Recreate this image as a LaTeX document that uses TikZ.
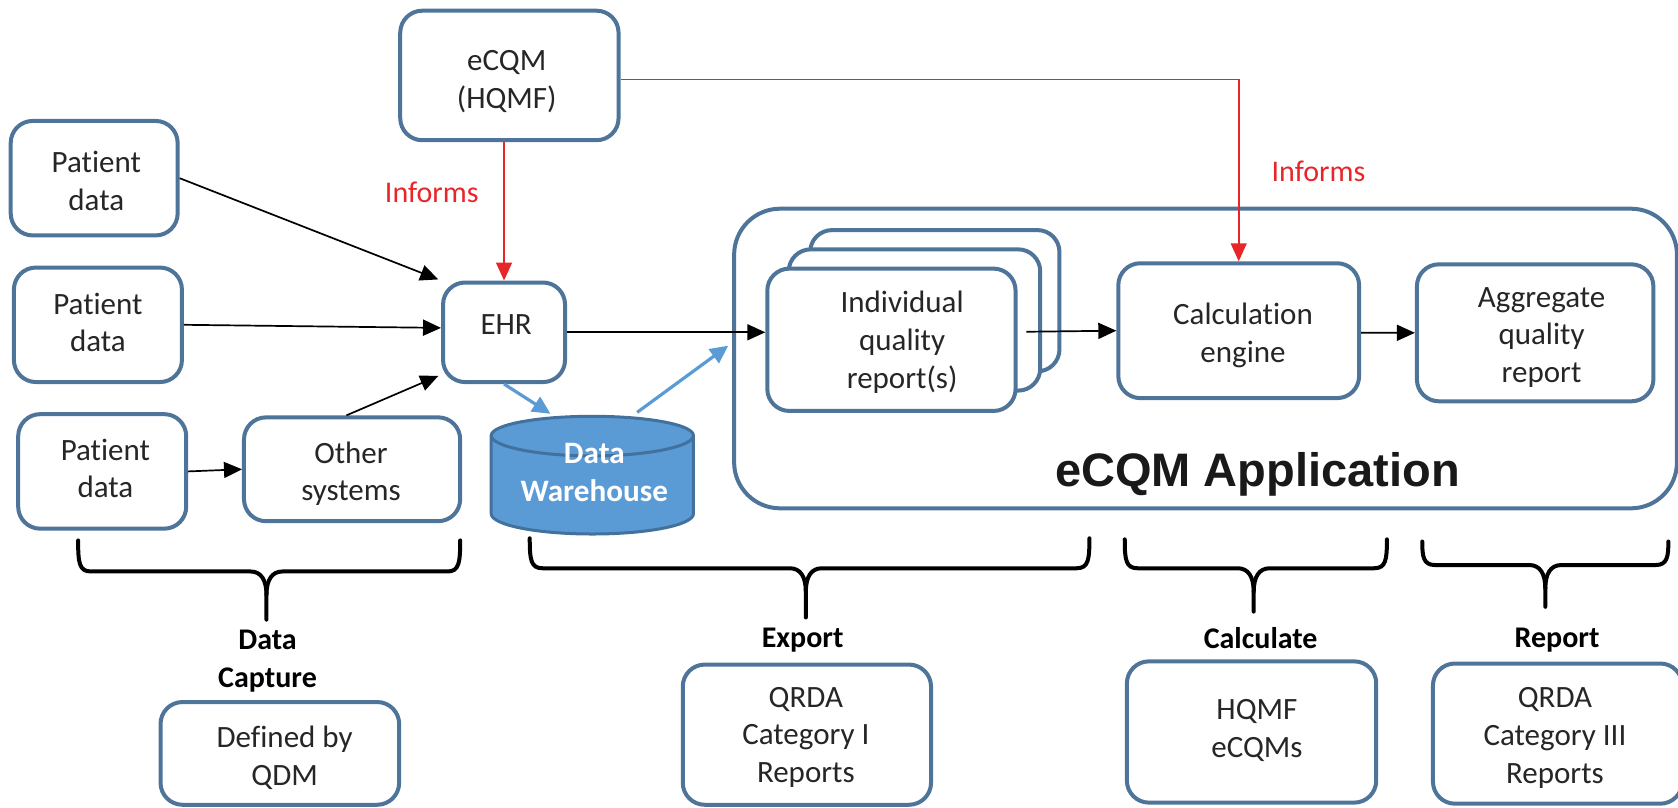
\documentclass[tikz,border=0pt]{standalone}
\usepackage{fontspec}
\setmainfont[Ligatures=NoCommon]{Carlito}
\newfontfamily\arialfont{Liberation Sans}
\usetikzlibrary{arrows.meta,calc}
\definecolor{boxline}{HTML}{4F7499}
\definecolor{dwfill}{HTML}{5B9BD5}
\definecolor{dwline}{HTML}{41719C}
\definecolor{redline}{HTML}{E8262A}
\tikzset{
  x=0.535pt,y=-0.535pt,
  box/.style={draw=boxline,line width=2pt,rounded corners=11pt,fill=white,inner sep=0pt,
    font=\fontsize{15.5}{18.8}\selectfont,text=black!85},
  blackarrow/.style={draw=black,line width=0.85pt,-{Triangle[length=9pt,width=8pt]}},
  redarrow/.style={draw=redline,line width=0.8pt,-{Triangle[length=9pt,width=8pt]}},
  bluearrow/.style={draw=dwfill,line width=1.6pt,-{Triangle[length=9pt,width=8.5pt]}},
  bracket/.style={draw=black,line width=2pt,line cap=round},
  bold label/.style={font=\fontsize{15}{18.8}\selectfont\bfseries,align=center,text=black,inner sep=0pt},
  red label/.style={font=\fontsize{15}{18.8}\selectfont,text=redline,inner sep=0pt},
}
% name x1 y1 x2 y2 text dx dy : text stays in the node, offset from its centre
\newcommand{\bx}[8]{%
  \node[box,minimum width={(#4-#2)*0.535pt},minimum height={(#5-#3)*0.535pt}] (#1)
    at ({(#2+#4)/2},{(#3+#5)/2}) {\makebox[0pt]{\hspace*{\dimexpr #7pt*1070/1000\relax}%
      \smash{\raisebox{\dimexpr -\fontdimen22\textfont2-#8pt*535/1000\relax}{\begin{tabular}{@{}c@{}}#6\end{tabular}}}}};}
\newcommand{\bracketpath}[6]{% x1 x2 xm ytop ymid ybot
  \draw[bracket] (#1,#4) .. controls (#1,{#5-8}) and ({#1+1},#5) .. ({#1+12},#5)
     -- ({#3-15},#5) .. controls ({#3-5},#5) and (#3,{#5+8}) .. (#3,{#5+22}) -- (#3,#6);
  \draw[bracket] (#2,#4) .. controls (#2,{#5-8}) and ({#2-1},#5) .. ({#2-12},#5)
     -- ({#3+15},#5) .. controls ({#3+5},#5) and (#3,{#5+8}) .. (#3,{#5+22});}
\begin{document}
\begin{tikzpicture}
\useasboundingbox (0,0) rectangle (1568,755);
\clip (0,0) rectangle (1568,755);
% application container
\node[draw=boxline,line width=2pt,rounded corners=23pt,fill=white,inner sep=0pt,
  minimum width={(1567-686)*0.535pt},minimum height={(475-195)*0.535pt}] (app) at ({(686+1567)/2},335) {};
\node[font=\arialfont\fontsize{23.5}{28}\selectfont\bfseries,text=black!90,inner sep=0pt] (apptitle) at (1175,443) {eCQM Application};
% boxes
\bx{ecqm}{374}{10}{578}{131}{eCQM\\(HQMF)}{-2.5}{6}
\bx{pa}{10}{113}{166}{220}{Patient\\data}{2}{5.5}
\bx{pb}{13}{250}{170}{357}{Patient\\data}{0}{0.5}
\bx{pc}{17}{387}{174}{494}{Patient\\data}{3}{0}
\bx{other}{228}{390}{430}{487}{Other\\systems}{-1}{5}
\bx{ehr}{414}{264}{528}{357}{EHR}{2}{-5}
\bx{indc}{757}{215}{990}{347}{}{0}{0}
\bx{indb}{737}{233}{972}{365}{}{0}{0}
\bx{ind}{717}{251}{949}{384}{Individual\\quality\\report(s)}{10}{3}
\bx{calc}{1045}{246}{1270}{372}{Calculation\\engine}{4}{5}
\bx{agg}{1324}{247}{1545}{375}{Aggregate\\quality\\report}{6}{4}
% data warehouse: body and cap drawn directly, the named node carries text and anchors
\fill[dwfill] (459,407) -- (459,480) .. controls (459,490.5) and (501,499) .. (553.5,499)
   .. controls (606,499) and (648,490.5) .. (648,480) -- (648,407)
   .. controls (648,397) and (606,389) .. (553.5,389) .. controls (501,389) and (459,397) .. (459,407) -- cycle;
\draw[dwline,line width=1.5pt] (459,407) -- (459,480) .. controls (459,490.5) and (501,499) .. (553.5,499)
   .. controls (606,499) and (648,490.5) .. (648,480) -- (648,407)
   .. controls (648,397) and (606,389) .. (553.5,389) .. controls (501,389) and (459,397) .. (459,407)
   .. controls (459,417) and (501,426) .. (553.5,426) .. controls (606,426) and (648,417) .. (648,407);
\node[font=\fontsize{15.6}{18.8}\selectfont\bfseries,text=white,inner sep=0pt,
  minimum width={189*0.535pt},minimum height={110*0.535pt}] (dw) at (553.5,444)
  {\hspace*{2pt}\begin{tabular}{@{}c@{}}Data\\Warehouse\end{tabular}};
% bottom boxes
\bx{qdm}{150}{656}{373}{752}{Defined by\\QDM}{4.5}{5}
\bx{qa}{638}{621}{870}{752}{QRDA\\Category I\\Reports}{-1}{2.5}
\bx{hq}{1053}{618}{1286}{750}{HQMF\\eCQMs}{5}{-1}
\bx{qc}{1339}{620}{1572}{751}{QRDA\\Category III\\Reports}{-2.5}{4}
% connectors
\draw[blackarrow,shorten >=1.5pt] (pa.east) -- (ehr.north west);
\draw[blackarrow] (pb.east) -- (ehr.176);
\draw[blackarrow] (pc.east) -- (other.west);
\draw[blackarrow,shorten >=1.5pt] (other.96) -- (ehr.214);
\draw[blackarrow] (ehr.east) -- (ehr.east -| ind.west);
\coordinate (indout) at (959,310);
\draw[blackarrow] (indout) -- (calc.west);
\draw[blackarrow] (calc.-1.5) -- (agg.west);
\draw[redarrow] (ehr.north |- ecqm.south) -- (ehr.north);
\draw[redarrow] (ecqm.-2.5) -| (calc.north);
\coordinate (appin) at (680.5,323);
\draw[bluearrow,shorten >=2pt] (ehr.south) -- (dw.123);
\draw[bluearrow,shorten <=3pt] (dw.56) -- (appin);
% labels
\node[red label] (infa) at (403.5,180) {Informs};
\node[red label] (infb) at (1232,160) {Informs};
% brackets
\bracketpath{73}{430}{249}{505}{534}{579}
\bracketpath{495}{1018}{753}{503}{531}{577}
\bracketpath{1051}{1296}{1171.5}{504}{531}{571.5}
\bracketpath{1329}{1559}{1444}{506}{528}{567}
\node[bold label] (lcap) at (250,618) {Data\\Capture};
\node[bold label] (lexp) at (750,598) {Export};
\node[bold label] (lcal) at (1178,596) {Calculate};
\node[bold label] (lrep) at (1455,598) {Report};
\end{tikzpicture}
\end{document}
